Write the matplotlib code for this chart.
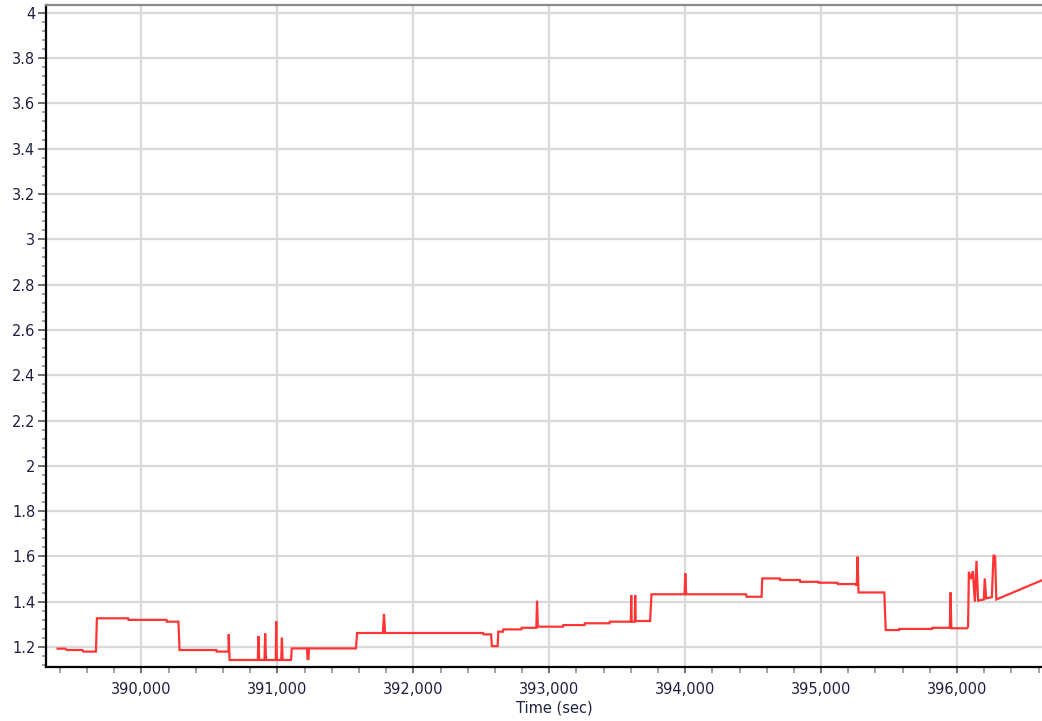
import matplotlib
matplotlib.use("Agg")
import matplotlib.pyplot as plt
from matplotlib.ticker import MultipleLocator, FuncFormatter

# Sampled signal: time (sec) and value
time_sec = [
    389383, 389440, 389449, 389565, 389572, 389665, 389672, 389902, 389904, 390184,
    390186, 390272, 390280, 390551, 390553, 390640, 390642, 390648, 390856, 390860,
    390866, 390905, 390910, 390916, 390988, 390991, 390996, 391028, 391033, 391038,
    391100, 391106, 391218, 391222, 391228, 391232, 391578, 391586, 391776, 391784,
    391792, 392513, 392516, 392572, 392578, 392620, 392625, 392660, 392662, 392795,
    392797, 392905, 392910, 392916, 393101, 393103, 393260, 393262, 393444, 393446,
    393600, 393603, 393606, 393629, 393632, 393636, 393742, 393752, 393995, 394001,
    394007, 394447, 394452, 394562, 394567, 394697, 394699, 394844, 394846, 394980,
    394982, 395120, 395122, 395255, 395262, 395268, 395275, 395465, 395475, 395573,
    395575, 395817, 395819, 395947, 395952, 395958, 396075, 396081, 396087, 396101,
    396116, 396131, 396143, 396155, 396197, 396204, 396214, 396256, 396268, 396280,
    396289, 396625,
]
value = [
    1.193, 1.193, 1.187, 1.187, 1.180, 1.180, 1.327, 1.327, 1.320, 1.320,
    1.312, 1.312, 1.187, 1.187, 1.180, 1.180, 1.256, 1.143, 1.143, 1.249,
    1.143, 1.143, 1.260, 1.143, 1.143, 1.315, 1.143, 1.143, 1.241, 1.143,
    1.143, 1.194, 1.194, 1.147, 1.147, 1.194, 1.194, 1.262, 1.262, 1.346,
    1.262, 1.262, 1.256, 1.256, 1.204, 1.204, 1.268, 1.268, 1.278, 1.278,
    1.285, 1.285, 1.404, 1.290, 1.290, 1.297, 1.297, 1.305, 1.305, 1.312,
    1.312, 1.430, 1.312, 1.312, 1.430, 1.315, 1.315, 1.433, 1.433, 1.525,
    1.433, 1.433, 1.422, 1.422, 1.503, 1.503, 1.496, 1.496, 1.488, 1.488,
    1.484, 1.484, 1.478, 1.478, 1.471, 1.599, 1.441, 1.441, 1.275, 1.275,
    1.280, 1.280, 1.285, 1.285, 1.441, 1.283, 1.283, 1.290, 1.532, 1.500,
    1.535, 1.400, 1.580, 1.405, 1.410, 1.503, 1.415, 1.420, 1.606, 1.600,
    1.410, 1.495,
]

x_limits = (389301, 396625)
y_limits = (1.112, 4.032)

text_color = "#202040"

fig = plt.figure(figsize=(10.42, 7.21), dpi=100)
ax = fig.add_axes([0.0446, 0.0749, 0.9554, 0.9175])

ax.plot(time_sec, value, color="#ff3535", lw=1.6, solid_joinstyle="miter", zorder=3)

ax.set_xlim(*x_limits)
ax.set_ylim(*y_limits)

ax.xaxis.set_major_locator(MultipleLocator(1000))
ax.xaxis.set_minor_locator(MultipleLocator(200))
ax.yaxis.set_major_locator(MultipleLocator(0.2))
ax.yaxis.set_minor_locator(MultipleLocator(0.04))
ax.xaxis.set_major_formatter(FuncFormatter(lambda v, p: f"{v:,.0f}"))
ax.yaxis.set_major_formatter(FuncFormatter(lambda v, p: f"{v:.1f}".rstrip("0").rstrip(".")))

ax.grid(True, which="major", color="#d9d9d9", lw=1.6, zorder=0)
ax.set_axisbelow(True)

for s in ("left", "bottom"):
    ax.spines[s].set_color("black")
    ax.spines[s].set_linewidth(1.6)
ax.spines["top"].set_color("#8a8a8a")
ax.spines["top"].set_linewidth(1.6)
ax.spines["right"].set_visible(False)

ax.tick_params(axis="y", which="major", length=6, width=1.2, color="#555555",
               labelsize=10.5, labelcolor=text_color, pad=2)
ax.tick_params(axis="y", which="minor", length=3, width=1.1, color="#888888")
ax.tick_params(axis="x", which="major", length=4, width=1.2, color="#555555",
               labelsize=10.5, labelcolor=text_color, pad=7)
ax.tick_params(axis="x", which="minor", length=4, width=1.1, color="#888888")

ax.set_xlabel("Time (sec)", fontsize=10.5, color=text_color, labelpad=1)
ax.xaxis.set_label_coords(0.51, -0.051)

fig.savefig("out.png", dpi=100, facecolor="white")
